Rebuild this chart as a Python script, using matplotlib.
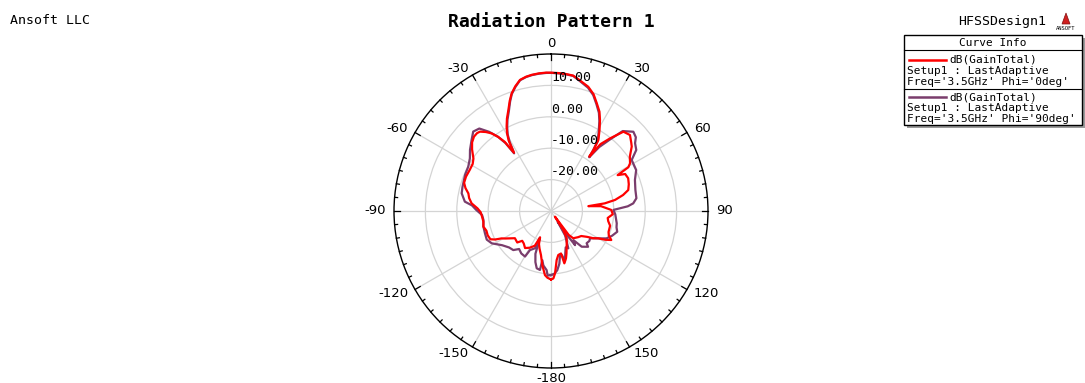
import numpy as np
import matplotlib
matplotlib.use("Agg")
import matplotlib.pyplot as plt
from matplotlib.patches import Rectangle, Polygon

# gain vs theta (deg, clockwise from boresight), Phi = 0deg
theta_phi0 = [-180, -177, -174.6, -170.8, -167.2, -163, -160, -157.5, -155, -150,
              -145, -140, -136, -133, -127, -121, -119, -117, -115, -111,
              -107, -103, -99, -95, -91, -88, -84.5, -81, -78, -75,
              -72, -68, -63, -59, -56, -52, -49, -46, -43.5, -41.8,
              -39.5, -37.4, -35.5, -33.8, -32.4, -31, -29.5, -27.7, -25.5, -22.9,
              -20.5, -18.5, -16, -13.3, -10.5, -8, -5, -2, 0, 3,
              6, 9.3, 12.5, 16.7, 20, 23, 26, 28.3, 31, 33.7,
              34.8, 35.2, 36.5, 39.1, 42.4, 46.1, 49.5, 51.4, 55.4, 58.9,
              60.5, 61.7, 63.5, 67, 71, 74.8, 77.5, 80.2, 81.9, 82.6,
              84.5, 89, 93, 97, 100, 104, 110, 113, 115.7, 118,
              120, 122.8, 125.7, 129.6, 134, 140.8, 143.5, 145, 147, 150,
              152.9, 156.3, 160, 162.4, 165.7, 166.7, 170.6, 173.4, 176.3, 178,
              180]
gain_phi0 = [-8.2, -8.7, -9.5, -12.6, -15.6, -17.5, -18.8, -20.9, -17.8, -16.5,
             -15.6, -16.5, -16.8, -15.3, -15.6, -13.0, -12.0, -10.0, -8.7, -8.4,
             -8.5, -7.9, -8.2, -8.0, -7.6, -6.6, -4.6, -3.6, -3.1, -1.8,
             -0.9, -0.8, -1.0, -0.9, -0.2, 1.9, 3.3, 4.1, 4.2, 3.9,
             2.6, 1.1, -1.0, -3.5, -8.0, -3.8, -1.6, 0.4, 2.6, 4.9,
             7.5, 9.5, 11.3, 12.9, 13.5, 13.8, 14.0, 14.1, 14.05, 14.0,
             13.9, 13.7, 12.6, 11.3, 9.6, 7.3, 5.2, 2.9, 0.0, -2.8,
             -6.3, -8.8, -3.5, -0.2, 4.2, 4.9, 3.6, 2.9, 0.5, -0.6,
             -1.7, -5.9, -3.6, -3.3, -3.8, -4.5, -6.5, -9.3, -12.7, -18.0,
             -14.0, -10.8, -10.3, -11.8, -11.5, -10.6, -10.5, -10.0, -8.7, -10.5,
             -12.6, -14.0, -15.9, -17.5, -18.0, -18.8, -20.5, -27.8, -22.8, -20.0,
             -19.0, -17.6, -15.6, -14.2, -12.8, -16.1, -15.8, -14.3, -10.1, -8.5,
             -8.2]

# Phi = 90deg
theta_phi90 = [-180, -177, -175.8, -172, -170, -169.4, -166, -163, -160, -157.6,
               -156.8, -153, -151.7, -150.3, -145, -140, -136, -131, -125, -118.6,
               -114, -108.7, -103, -97.6, -93.3, -89.2, -86, -83.8, -78.8, -75,
               -72.5, -67, -61.8, -57, -53, -48, -44.4, -41, -38, -35.5,
               -33.8, -32.6, -31, -29.5, -27.7, -25.5, -22.9, -20.5, -18.5, -16,
               -13.3, -10.5, -8, -5, -2, 0, 3, 6, 9.3, 12.5,
               16.7, 20, 23, 26, 28.3, 31, 33.7, 34.8, 35.4, 37,
               39.5, 41.9, 46.1, 49, 51.1, 54.4, 57.7, 64.3, 69.7, 76,
               81.5, 84.7, 86.5, 89, 93, 100.6, 104, 107.4, 112, 116.3,
               119, 122, 125, 128, 132.1, 134, 139.3, 142.4, 144.8, 146,
               148, 150, 155.1, 158, 161, 164.6, 166, 168.4, 171, 174,
               177, 180]
gain_phi90 = [-9.6, -9.4, -11.1, -12.5, -14.1, -10.9, -11.2, -13.0, -15.5, -20.8,
              -17.1, -16.2, -15.9, -13.3, -13.5, -14.2, -12.7, -12.3, -11.0, -8.5,
              -7.6, -7.8, -7.9, -8.3, -8.0, -6.2, -4.8, -2.4, -1.0, -0.8,
              -0.7, -0.3, -0.1, 0.8, 2.3, 4.0, 5.4, 4.8, 2.0, -1.0,
              -4.0, -8.2, -4.5, -2.0, 0.0, 2.2, 4.5, 7.2, 9.3, 11.1,
              12.8, 13.4, 13.7, 13.9, 14.0, 14.0, 13.9, 13.8, 13.6, 12.4,
              11.0, 9.3, 7.0, 4.8, 2.5, -0.5, -3.2, -6.6, -9.0, -4.5,
              -0.5, 4.2, 6.4, 5.8, 4.4, 3.4, 0.4, 0.1, -1.5, -2.3,
              -2.5, -3.7, -5.5, -10.1, -9.5, -8.7, -8.5, -7.9, -9.0, -10.3,
              -12.0, -13.6, -14.8, -14.5, -14.7, -13.6, -15.0, -18.3, -16.7, -20.1,
              -26.0, -21.0, -16.9, -17.5, -16.0, -13.3, -15.5, -15.7, -13.0, -11.0,
              -10.0, -9.6]

ring_values = [-20, -10, 0, 10]
ring_labels = ["-20.00", "-10.00", "0.00", "10.00"]
angle_ticks = [0, 30, 60, 90, 120, 150, 180, -150, -120, -90, -60, -30]
angle_labels = ["0", "30", "60", "90", "120", "150", "-180", "-150", "-120", "-90", "-60", "-30"]

legend_lines = [
    ("dB(GainTotal)", "Setup1 : LastAdaptive", "Freq='3.5GHz' Phi='0deg'"),
    ("dB(GainTotal)", "Setup1 : LastAdaptive", "Freq='3.5GHz' Phi='90deg'"),
]

RED = "#ff0000"
PURPLE = "#7a3d6c"
GRID = "#d4d4d4"
MONO = "DejaVu Sans Mono"

W, H = 1085, 383
fig = plt.figure(figsize=(W / 100, H / 100), dpi=100)
fig.patch.set_facecolor("white")

# polar plot: centre (551, 211), radius 157 px
cx, cy, R = 551, 211, 157
ax = fig.add_axes([(cx - R) / W, (H - cy - R) / H, 2 * R / W, 2 * R / H],
                  projection="polar")
ax.set_theta_zero_location("N")
ax.set_theta_direction(-1)
rmin, rmax = -30, 20
ax.set_ylim(rmin, rmax)
ax.set_rgrids(ring_values, labels=[""] * len(ring_values))
ax.set_thetagrids(np.arange(0, 360, 30), labels=[""] * 12)
ax.grid(True, color=GRID, lw=0.9)
ax.spines["polar"].set_color("black")
ax.spines["polar"].set_linewidth(1.0)
ax.tick_params(axis="both", length=0)

px2db = (rmax - rmin) / R
for a in range(0, 360, 5):
    ln = 6 if a % 30 == 0 else 3
    ax.plot([np.deg2rad(a)] * 2, [rmax, rmax - ln * px2db], color="black",
            lw=0.9, clip_on=False, zorder=3)

for v, s in zip(ring_values, ring_labels):
    ax.text(0.0, v + 0.4, s, ha="left", va="bottom", fontsize=9.5,
            family=MONO, color="black", zorder=5)

lab_r = rmax + 8 * px2db
for a, s in zip(angle_ticks, angle_labels):
    t = np.deg2rad(a)
    if a == 0:
        ha, va, r = "center", "bottom", rmax + 4 * px2db
    elif a == 180:
        ha, va, r = "center", "top", rmax + 4 * px2db
    elif a > 0:
        ha, va, r = "left", "center", lab_r
    else:
        ha, va, r = "right", "center", lab_r
    ax.text(t, r, s, ha=ha, va=va, fontsize=9.5, family="DejaVu Sans",
            clip_on=False)

ax.plot(np.deg2rad(theta_phi90), gain_phi90, color=PURPLE, lw=1.6, zorder=4)
ax.plot(np.deg2rad(theta_phi0), gain_phi0, color=RED, lw=1.6, zorder=4)

# page furniture in pixel coordinates
ov = fig.add_axes([0, 0, 1, 1], zorder=10)
ov.set_xlim(0, W)
ov.set_ylim(H, 0)
ov.axis("off")

ov.text(10, 21, "Ansoft LLC", fontsize=9.5, family=MONO, va="center")
ov.text(551, 22, "Radiation Pattern 1", fontsize=13, family=MONO,
        weight="bold", ha="center", va="center")
ov.text(958, 21, "HFSSDesign1", fontsize=9.5, family=MONO, va="center")
ov.add_patch(Polygon([[1062, 24], [1066, 13], [1070, 24]], closed=True,
                     facecolor="#d02020", edgecolor="#801010", lw=0.5))
ov.text(1066, 28, "ANSOFT", fontsize=4, family=MONO, ha="center", va="center")

bx0, by0, bx1, by1 = 904, 35, 1082, 125
ov.add_patch(Rectangle((bx0 + 3, by0 + 3), bx1 - bx0, by1 - by0,
                       facecolor="#9a9a9a", edgecolor="none"))
ov.add_patch(Rectangle((bx0, by0), bx1 - bx0, by1 - by0,
                       facecolor="white", edgecolor="black", lw=1.0))
ov.plot([bx0, bx1], [50, 50], color="black", lw=0.8)
ov.plot([bx0, bx1], [89, 89], color="black", lw=0.8)
ov.text((bx0 + bx1) / 2, 43, "Curve Info", fontsize=8, family=MONO,
        ha="center", va="center")

for i, (color, lines) in enumerate(zip([RED, PURPLE], legend_lines)):
    y0 = 60 + i * 37
    ov.plot([909, 946], [y0, y0], color=color, lw=1.8)
    ov.text(949, y0, lines[0], fontsize=8, family=MONO, va="center")
    ov.text(907, y0 + 11, lines[1], fontsize=8, family=MONO, va="center")
    ov.text(907, y0 + 22, lines[2], fontsize=8, family=MONO, va="center")

fig.savefig("out.png", dpi=100)
